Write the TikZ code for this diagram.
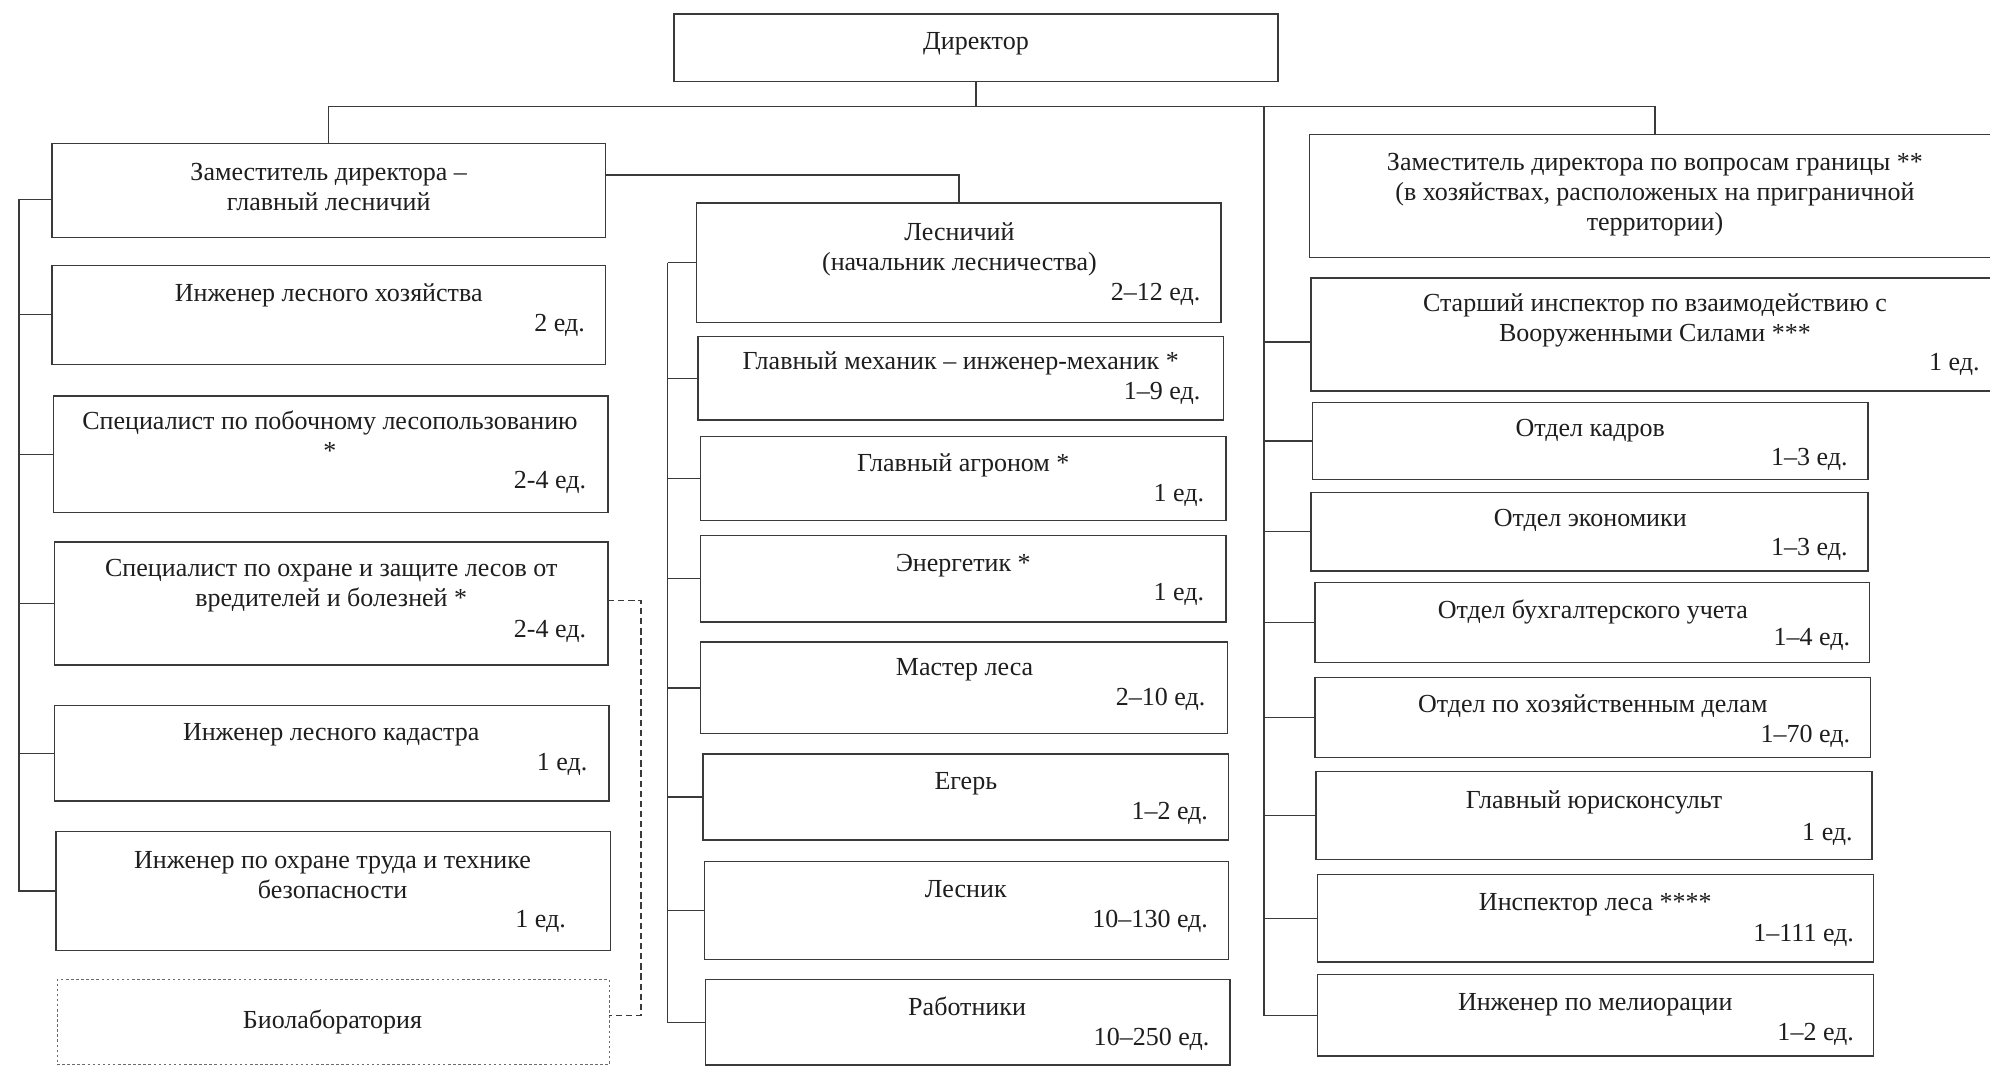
\documentclass[tikz,border=0pt]{standalone}
\usepackage{fontspec}
\setmainfont{Liberation Serif}
\usetikzlibrary{calc}
\definecolor{linec}{HTML}{3A3A3A}
\definecolor{txtc}{HTML}{1E1E1E}
\tikzset{
  box/.style={draw=linec, line width=1.1pt, inner sep=0pt, outer sep=0pt},
  biobox/.style={draw=linec!75, line width=0.9pt, dash pattern=on 2pt off 2pt},
  ttl/.style={align=center, inner sep=0pt, anchor=north, font=\fontsize{20.5}{23.6}\selectfont, text=txtc},
  cnt/.style={inner sep=0pt, anchor=base east, font=\fontsize{20.5}{23.6}\selectfont, text=txtc},
  conn/.style={draw=linec, line width=1.1pt},
  dconn/.style={draw=linec, line width=1.1pt, dash pattern=on 5pt off 3pt},
}
\newcommand\obox[6][]{\node[box,#1,minimum width={(#5-#3)*1pt},minimum height={(#6-#4)*1pt}] (#2) at ({(#3+#5)/2},{(#4+#6)/2}) {};}
\newcommand\ottl[4]{\node[ttl] (#1) at (#2,{#3-20}) {\rule{0pt}{20pt}#4};}
\newcommand\ocnt[4]{\node[cnt] (#1) at (#2,#3) {#4};}
\begin{document}
\begin{tikzpicture}[x=1pt,y=-1pt]
\useasboundingbox (0,0) rectangle (1568,842.3);
\clip (0,0) rectangle (1568,842.3);
\fill[white] (0,0) rectangle (1568,842.3);
% ---------- boxes
\obox{dir}{531}{11}{1007}{64}
\obox{dep}{41}{113}{477}{187}
\obox{ilh}{41}{209}{477}{287}
\obox{spl}{42}{312}{479}{404}
\obox{zas}{43}{427}{479}{524}
\obox{kad}{43}{556}{480}{631}
\obox{ohr}{44}{655}{481}{749}
\obox[biobox]{bio}{45}{772}{480}{839}
\obox{les}{549}{160}{962}{254}
\obox{meh}{550}{265}{964}{331}
\obox{agr}{552}{344}{966}{410}
\obox{ene}{552}{422}{966}{490}
\obox{mas}{552}{506}{967}{578}
\obox{ege}{554}{594}{968}{662}
\obox{lsn}{555}{679}{968}{756}
\obox{rab}{556}{772}{969}{839}
\obox{bdr}{1032}{106}{1576}{203}
\obox{sti}{1033}{219}{1576}{308}
\obox{okd}{1034}{317}{1472}{378}
\obox{oek}{1033}{388}{1472}{450}
\obox{obu}{1036}{459}{1473}{522}
\obox{ohz}{1036}{534}{1474}{597}
\obox{yur}{1037}{608}{1475}{677}
\obox{ins}{1038}{689}{1476}{758}
\obox{mel}{1038}{768}{1476}{832}
% ---------- connectors
\coordinate (bus) at (769,84);
\draw[conn] (dir.south) -- (bus);
\draw[conn] (dep.north) -- (dep.north |- bus) -- (bdr.north |- bus) -- (bdr.north);
\coordinate (rv) at (996,84);
\coordinate (stist) at ($(sti.west)+(0,6)$);
\draw[conn] (rv) -- (rv |- mel.west) -- (mel.west);
\draw[conn] (rv |- stist) -- (stist);
\foreach \b in {okd,oek,obu,ohz,yur,ins} \draw[conn] (rv |- \b.west) -- (\b.west);
\draw[conn] ([yshift=12pt]dep.east) -| (les.north);
\coordinate (mv) at (526,0);
\draw[conn] (mv |- les.west) -- (mv |- rab.west) -- (rab.west);
\foreach \b in {les,meh,agr,ene,mas,ege,lsn} \draw[conn] (mv |- \b.west) -- (\b.west);
\coordinate (lv) at (15,0);
\coordinate (depst) at ($(dep.west)+(0,7)$);
\draw[conn] (depst) -- (lv |- depst) -- (lv |- ohr.west) -- (ohr.west);
\foreach \b in {ilh,spl,zas,kad} \draw[conn] (lv |- \b.west) -- (\b.west);
\draw[dconn] ([yshift=2.5pt]zas.east) -- ++(26,0) |- ([yshift=5.5pt]bio.east);
% ---------- texts
\ottl{dir-t}{769}{39}{Директор}
\ottl{dep-t}{259}{142}{Заместитель директора –\\главный лесничий}
\ottl{ilh-t}{259}{237}{Инженер лесного хозяйства}
\ocnt{ilh-c}{461}{261}{2 ед.}
\ottl{spl-t}{260}{338}{Специалист по побочному лесопользованию\\*}
\ocnt{spl-c}{462}{385}{2-4 ед.}
\ottl{zas-t}{261}{454}{Специалист по охране и защите лесов от\\вредителей и болезней *}
\ocnt{zas-c}{462}{502}{2-4 ед.}
\ottl{kad-t}{261}{583}{Инженер лесного кадастра}
\ocnt{kad-c}{463}{607}{1 ед.}
\ottl{ohr-t}{262}{684}{Инженер по охране труда и технике\\безопасности}
\ocnt{ohr-c}{446}{731}{1 ед.}
\ottl{bio-t}{262}{810}{Биолаборатория}
\ottl{les-t}{756}{189}{Лесничий\\(начальник лесничества)}
\ocnt{les-c}{946}{237}{2–12 ед.}
\ottl{meh-t}{757}{291}{Главный механик – инженер-механик *}
\ocnt{meh-c}{946}{315}{1–9 ед.}
\ottl{agr-t}{759}{371}{Главный агроном *}
\ocnt{agr-c}{949}{395}{1 ед.}
\ottl{ene-t}{759}{450}{Энергетик *}
\ocnt{ene-c}{949}{473}{1 ед.}
\ottl{mas-t}{760}{532}{Мастер леса}
\ocnt{mas-c}{950}{556}{2–10 ед.}
\ottl{ege-t}{761}{622}{Егерь}
\ocnt{ege-c}{952}{646}{1–2 ед.}
\ottl{lsn-t}{761}{707}{Лесник}
\ocnt{lsn-c}{952}{731}{10–130 ед.}
\ottl{rab-t}{762}{800}{Работники}
\ocnt{rab-c}{953}{824}{10–250 ед.}
\ottl{bdr-t}{1304}{134}{Заместитель директора по вопросам границы **\\(в хозяйствах, расположеных на приграничной\\территории)}
\ottl{sti-t}{1304}{245}{Старший инспектор по взаимодействию с\\Вооруженными Силами ***}
\ocnt{sti-c}{1560}{292}{1 ед.}
\ottl{okd-t}{1253}{344}{Отдел кадров}
\ocnt{okd-c}{1456}{367}{1–3 ед.}
\ottl{oek-t}{1253}{415}{Отдел экономики}
\ocnt{oek-c}{1456}{438}{1–3 ед.}
\ottl{obu-t}{1255}{487}{Отдел бухгалтерского учета}
\ocnt{obu-c}{1458}{509}{1–4 ед.}
\ottl{ohz-t}{1255}{561}{Отдел по хозяйственным делам}
\ocnt{ohz-c}{1458}{585}{1–70 ед.}
\ottl{yur-t}{1256}{637}{Главный юрисконсульт}
\ocnt{yur-c}{1460}{662}{1 ед.}
\ottl{ins-t}{1257}{717}{Инспектор леса ****}
\ocnt{ins-c}{1461}{742}{1–111 ед.}
\ottl{mel-t}{1257}{796}{Инженер по мелиорации}
\ocnt{mel-c}{1461}{820}{1–2 ед.}
\end{tikzpicture}
\end{document}
